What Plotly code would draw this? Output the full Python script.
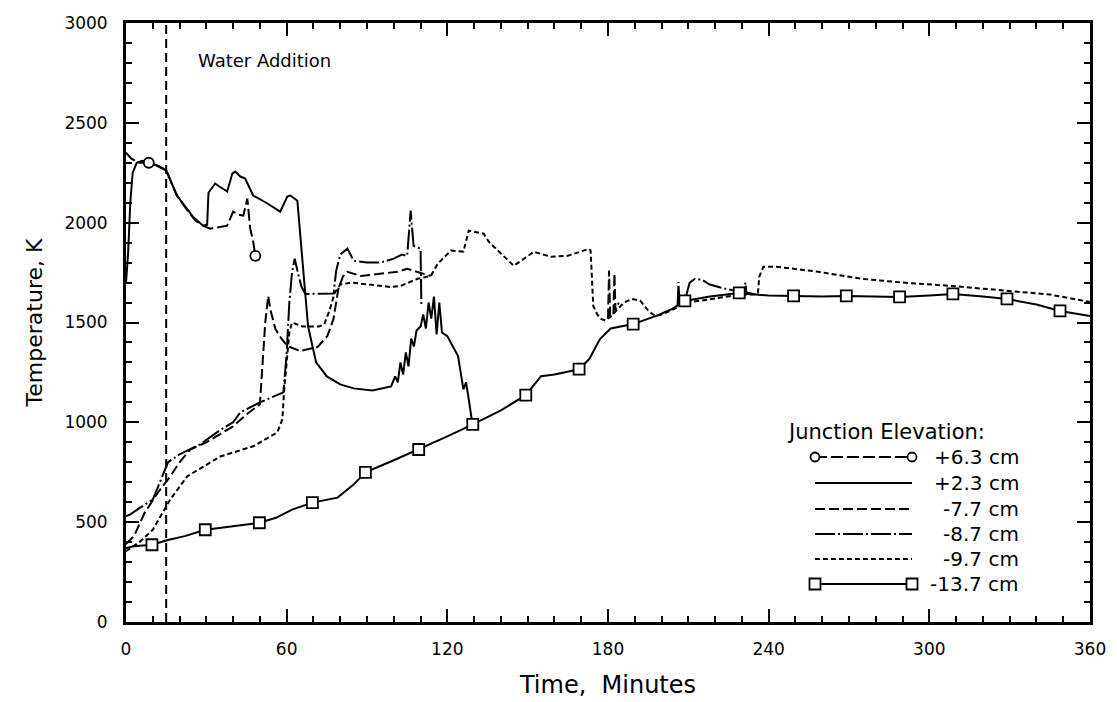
import plotly.graph_objects as go

# ---------------- data ----------------
# +6.3 cm junction
P63_T = [0, 2, 5, 8.5, 12, 15, 19, 23, 26, 28.8, 31.4, 34, 37.8, 40, 42, 43.8, 45.3, 46.4, 47.5, 48.3]
P63_K = [2350, 2320, 2300, 2300, 2285, 2262, 2136, 2060, 2010, 1985, 1970, 1975, 1985, 2055, 2040, 2035, 2120, 1970, 1905, 1834]
P63_MARK_T = [8.5, 48.3]

# +2.3 cm junction
P23_T = [0, 0.8, 1.6, 2.5, 4, 6, 10, 15, 19, 25, 28.8, 30.3, 30.8, 33.3, 35, 37.8, 39.7, 40.8, 42.7, 44.5,
         47.5, 52.8, 57.6, 60.2, 61.4, 64, 65, 66.5, 68, 71, 75, 80, 85, 92, 99, 100.5, 101.5, 102.5, 103.5,
         104.5, 105.5, 106.5, 107.5, 108.5, 110, 111, 112, 113, 114, 115, 116, 117, 118, 120, 124, 126, 127,
         128, 129.5]
P23_K = [1700, 1850, 2100, 2250, 2300, 2310, 2295, 2262, 2136, 2030, 1985, 1990, 2150, 2196, 2180, 2156, 2246,
         2256, 2231, 2221, 2136, 2096, 2055, 2131, 2136, 2110, 1950, 1700, 1480, 1300, 1230, 1190, 1170, 1160,
         1180, 1230, 1200, 1300, 1240, 1350, 1280, 1420, 1380, 1460, 1480, 1540, 1470, 1600, 1520, 1630, 1440,
         1600, 1450, 1432, 1332, 1165, 1200, 1115, 980]

# -7.7 cm junction
M77_T = [0, 3, 7, 12, 16.5, 20, 24, 30, 40, 45, 50, 51, 52, 53.1, 54, 55.8, 58, 60.3, 65.1, 71.5, 75.2, 77.5,
         79.3, 81, 82.7, 87.6, 95, 101.4, 105, 110, 113.8,
         None, 180.0, 180.4, 180.8, 182.0, 182.4, 182.8, 184.0]
M77_K = [390, 430, 548, 650, 729, 800, 864, 900, 980, 1040, 1090, 1300, 1500, 1633, 1560, 1467, 1420, 1382, 1357,
         1377, 1432, 1518, 1668, 1730, 1754, 1733, 1745, 1754, 1769, 1750, 1733,
         None, 1520, 1760, 1530, 1540, 1745, 1560, 1600]

# -8.7 cm junction
M87_T = [0, 1.5, 5, 10, 15.7, 20, 27.7, 35, 40, 42.7, 50, 58.8, 60, 61, 62, 63, 64, 65.5, 67, 72, 77.5, 78.5,
         80, 82.7, 85, 90, 95, 100, 103, 105, 106.3, 107.4, 110, 110.3,
         None, 206.0, 206.3, 206.7, 208.7, 210.5, 212.5, 215, 218, 222, 227, 229, 231, 231.3, 231.7, 235]
M87_K = [530, 538, 570, 613, 800, 840, 890, 960, 1000, 1050, 1100, 1150, 1350, 1600, 1750, 1820, 1760, 1680,
         1643, 1643, 1645, 1760, 1840, 1870, 1810, 1800, 1800, 1820, 1840, 1834, 2060, 1884, 1869, 1583,
         None, 1583, 1703, 1600, 1608, 1700, 1719, 1715, 1690, 1675, 1660, 1650, 1655, 1700, 1650, 1640]

# -9.7 cm junction
M97_T = [0, 5, 10, 16.5, 22.8, 35.2, 47.5, 56.5, 58.4, 59, 60, 61, 62, 64, 66, 72, 74, 76, 78, 80, 84, 88.7,
         98.8, 102.5, 108.9, 113.8, 116.4, 121.3, 126, 128, 133.6, 135.5, 138.8, 144.8, 147.5, 152.3, 158.7,
         165, 172.9, 173.5, 174.5, 176, 177.4, 179, 181, 183, 186, 189, 192, 195, 197.5, 200, 205, 208.7, 215,
         222, 229, 234, 236, 236.5, 238, 243, 258.6, 274.7, 290, 308.4, 320, 333.5, 345, 360]
M97_K = [355, 400, 462, 613, 729, 829, 880, 950, 1015, 1150, 1300, 1450, 1500, 1490, 1480, 1480, 1490, 1560,
         1650, 1690, 1700, 1693, 1678, 1683, 1719, 1733, 1794, 1860, 1855, 1960, 1945, 1904, 1860, 1784, 1809,
         1854, 1829, 1834, 1869, 1860, 1583, 1540, 1518, 1510, 1530, 1560, 1600, 1618, 1610, 1560, 1533, 1540,
         1570, 1600, 1610, 1625, 1640, 1640, 1650, 1730, 1779, 1779, 1754, 1719, 1700, 1683, 1670, 1653, 1640,
         1603]

# -13.7 cm junction
M137_T = [0, 3, 9.7, 16, 22, 29.6, 40, 49.8, 56, 62, 69.6, 79, 85, 89.4, 100, 109.3, 120, 129.5, 140, 149.3,
          155, 160, 169.2, 173, 177, 181, 189.4, 198, 204, 208.7, 218, 229, 240, 249.3, 260, 269, 280, 288.9,
          300, 308.8, 320, 329, 340, 348.8, 360]
M137_K = [370, 380, 387, 412, 430, 462, 480, 497, 522, 563, 598, 623, 688, 749, 810, 864, 930, 990, 1060, 1136,
          1231, 1240, 1266, 1317, 1417, 1470, 1492, 1533, 1568, 1608, 1630, 1648, 1635, 1633, 1630, 1633, 1630,
          1628, 1635, 1643, 1630, 1618, 1590, 1558, 1533]
M137_MARK_T = [9.7, 29.6, 49.8, 69.6, 89.4, 109.3, 129.5, 149.3, 169.2, 189.4, 208.7, 229, 249.3, 269, 288.9,
               308.8, 329, 348.8]

WATER_T = 15
X_TICKS = [0, 60, 120, 180, 240, 300, 360]
Y_TICKS = [0, 500, 1000, 1500, 2000, 2500, 3000]
LEGEND_TITLE = "Junction Elevation:"
LEGEND_LABELS = ["+6.3 cm", "+2.3 cm", "-7.7 cm", "-8.7 cm", "-9.7 cm", "-13.7 cm"]

# ---------------- styles ----------------
FONT = "DejaVu Sans, Arial, sans-serif"
DASH = {
    "+6.3 cm": "12px,4px",
    "+2.3 cm": "solid",
    "-7.7 cm": "10px,4px",
    "-8.7 cm": "20px,3px,2px,3px",
    "-9.7 cm": "5px,3px",
    "-13.7 cm": "solid",
}
LW = 2

fig = go.Figure()


def add_line(t, k, label):
    fig.add_trace(go.Scatter(x=t, y=k, mode="lines", name=label, showlegend=False,
                             connectgaps=False,
                             line=dict(color="black", width=LW, dash=DASH[label])))


def add_marks(t, k, mark_t, symbol, size):
    mx = [tt for tt in t if tt is not None and tt in mark_t]
    my = [kk for tt, kk in zip(t, k) if tt is not None and tt in mark_t]
    fig.add_trace(go.Scatter(x=mx, y=my, mode="markers", showlegend=False,
                             marker=dict(symbol=symbol, size=size, color="white",
                                         line=dict(color="black", width=1.8))))


add_line(M137_T, M137_K, "-13.7 cm")
add_line(M97_T, M97_K, "-9.7 cm")
add_line(M87_T, M87_K, "-8.7 cm")
add_line(M77_T, M77_K, "-7.7 cm")
add_line(P23_T, P23_K, "+2.3 cm")
add_line(P63_T, P63_K, "+6.3 cm")
add_marks(M137_T, M137_K, M137_MARK_T, "square", 11)
add_marks(P63_T, P63_K, P63_MARK_T, "circle", 10)

# water addition line
fig.add_shape(type="line", xref="x", yref="y", x0=WATER_T, x1=WATER_T, y0=0, y1=3000,
              line=dict(color="black", width=2, dash="9px,5px"))
fig.add_annotation(x=WATER_T + 11, y=2810, xref="x", yref="y", text="Water Addition",
                   showarrow=False, xanchor="left", yanchor="middle",
                   font=dict(family=FONT, size=18, color="black"))

# ---------------- custom legend (layout, in pixel positions) ----------------
W, H = 1117, 702
L, R, T, B = 126, 27, 23, 80
PW, PH = W - L - R, H - T - B


def px(xp):
    return (xp - L) / PW


def py(yp):
    return (H - B - yp) / PH


fig.add_annotation(x=px(785), y=py(432), xref="paper", yref="paper", text=LEGEND_TITLE,
                   showarrow=False, xanchor="left", yanchor="middle",
                   font=dict(family=FONT, size=21, color="black"))
rows = [457, 483, 509, 534, 559, 584]
for lab, yr in zip(LEGEND_LABELS, rows):
    fig.add_shape(type="line", xref="paper", yref="paper", x0=px(815), x1=px(912), y0=py(yr), y1=py(yr),
                  line=dict(color="black", width=LW, dash=DASH[lab]))
    fig.add_annotation(x=px(1021), y=py(yr), xref="paper", yref="paper", text=lab, showarrow=False,
                       xanchor="right", yanchor="middle", font=dict(family=FONT, size=20, color="black"))
    if lab in ("+6.3 cm", "-13.7 cm"):
        stype = "circle" if lab == "+6.3 cm" else "rect"
        half = 4.5 if stype == "circle" else 5.5
        for xc in (815, 912):
            fig.add_shape(type=stype, xref="paper", yref="paper", xsizemode="pixel", ysizemode="pixel",
                          xanchor=px(xc), yanchor=py(yr), x0=-half, x1=half, y0=-half, y1=half,
                          fillcolor="white", line=dict(color="black", width=1.8))

axis_common = dict(showline=True, linecolor="black", linewidth=2.8, mirror="allticks", showgrid=False,
                   zeroline=False, ticks="inside", ticklen=13, tickwidth=2, tickcolor="black",
                   tickfont=dict(family=FONT, size=17, color="black"))

fig.update_xaxes(range=[0, 360], tickvals=X_TICKS, ticktext=[str(v) for v in X_TICKS],
                 minor=dict(ticks="inside", dtick=10, tick0=0, ticklen=6, tickwidth=1.5, tickcolor="black"),
                 ticklabelstandoff=10,
                 title=dict(text="Time,\u00a0 Minutes", standoff=18,
                            font=dict(family=FONT, size=24, color="black")),
                 **axis_common)
fig.update_yaxes(range=[0, 3000], tickvals=Y_TICKS, ticktext=[str(v) for v in Y_TICKS],
                 minor=dict(ticks="inside", dtick=100, tick0=0, ticklen=6, tickwidth=1.5, tickcolor="black"),
                 ticklabelstandoff=12,
                 title=dict(text="Temperature, K", standoff=16,
                            font=dict(family=FONT, size=22, color="black")),
                 **axis_common)

fig.update_layout(width=W, height=H, margin=dict(l=L, r=R, t=T, b=B, autoexpand=False),
                  plot_bgcolor="white", paper_bgcolor="white", showlegend=False)

fig.write_html("out.html", config={"displayModeBar": False},
               post_script="document.body.style.margin='0';")
